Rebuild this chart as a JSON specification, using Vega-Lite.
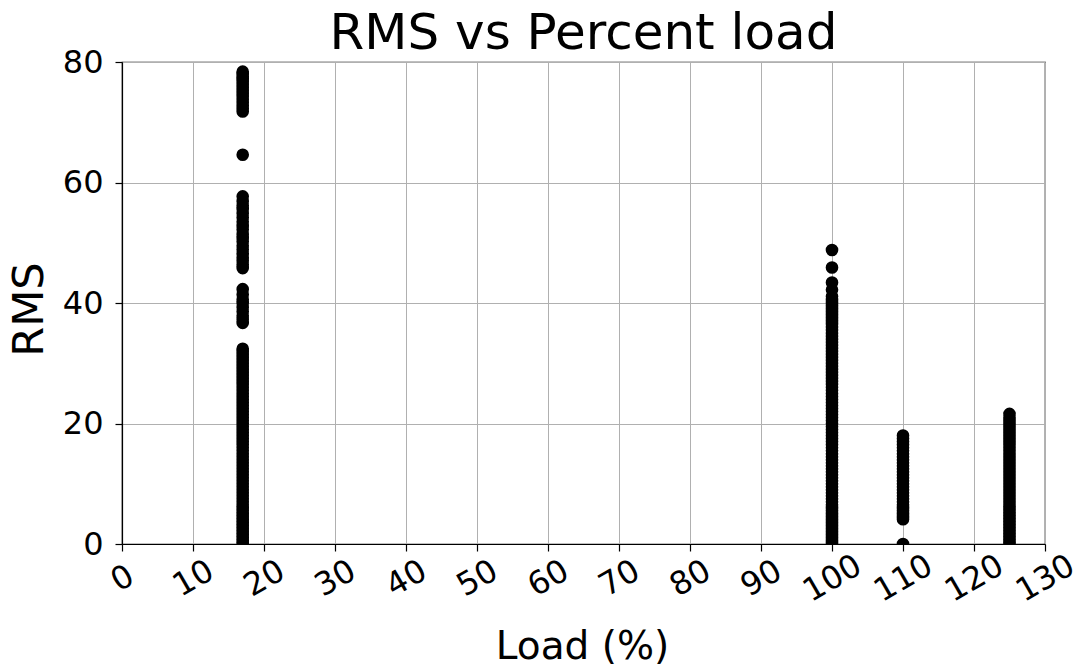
{
  "$schema": "https://vega.github.io/schema/vega-lite/v6.json",
  "autosize": {"type": "none"},
  "width": 923,
  "height": 482,
  "padding": {"left": 122, "top": 62, "right": 29, "bottom": 123},
  "background": "white",
  "title": {"text": "RMS vs Percent load", "font": "DejaVu Sans", "fontSize": 50, "fontWeight": "normal", "color": "black", "anchor": "middle", "offset": -13},
  "config": {
    "view": {"stroke": "black", "strokeWidth": 1.2},
    "axis": {"labelFont": "DejaVu Sans", "titleFont": "DejaVu Sans", "labelColor": "black", "titleColor": "black", "titleFontWeight": "normal", "domainColor": "black", "domainWidth": 1.2, "tickColor": "black", "tickWidth": 1.2, "tickSize": 7, "gridColor": "#b0b0b0", "gridWidth": 1, "labelOverlap": false, "labelFlush": false}
  },
  "data": {"values": [
    {"load":17,"rms":0},{"load":17,"rms":0.5},{"load":17,"rms":1},{"load":17,"rms":1.5},{"load":17,"rms":2},{"load":17,"rms":2.5},{"load":17,"rms":3},{"load":17,"rms":3.5},{"load":17,"rms":4},{"load":17,"rms":4.5},{"load":17,"rms":5},{"load":17,"rms":5.5},{"load":17,"rms":6},{"load":17,"rms":6.5},{"load":17,"rms":7},{"load":17,"rms":7.5},{"load":17,"rms":8},{"load":17,"rms":8.5},{"load":17,"rms":9},{"load":17,"rms":9.5},{"load":17,"rms":10},{"load":17,"rms":10.5},{"load":17,"rms":11},{"load":17,"rms":11.5},{"load":17,"rms":12},{"load":17,"rms":12.5},{"load":17,"rms":13},{"load":17,"rms":13.5},{"load":17,"rms":14},{"load":17,"rms":14.5},{"load":17,"rms":15},{"load":17,"rms":15.5},{"load":17,"rms":16},{"load":17,"rms":16.5},{"load":17,"rms":17},{"load":17,"rms":17.5},{"load":17,"rms":18},{"load":17,"rms":18.5},{"load":17,"rms":19},{"load":17,"rms":19.5},{"load":17,"rms":20},{"load":17,"rms":20.5},{"load":17,"rms":21},{"load":17,"rms":21.5},{"load":17,"rms":22},{"load":17,"rms":22.5},{"load":17,"rms":23},{"load":17,"rms":23.5},{"load":17,"rms":24},{"load":17,"rms":24.5},{"load":17,"rms":25},{"load":17,"rms":25.5},{"load":17,"rms":26},{"load":17,"rms":26.5},{"load":17,"rms":27},{"load":17,"rms":27.5},{"load":17,"rms":28},{"load":17,"rms":28.5},{"load":17,"rms":29},{"load":17,"rms":29.5},{"load":17,"rms":30},{"load":17,"rms":30.5},{"load":17,"rms":31},{"load":17,"rms":31.5},{"load":17,"rms":32},{"load":17,"rms":32.4},
    {"load":17,"rms":36.7},{"load":17,"rms":37.3},{"load":17,"rms":37.9},{"load":17,"rms":38.6},{"load":17,"rms":39.3},{"load":17,"rms":40},{"load":17,"rms":40.6},{"load":17,"rms":41.4},{"load":17,"rms":42.3},
    {"load":17,"rms":45.8},{"load":17,"rms":46.4},{"load":17,"rms":47},{"load":17,"rms":47.5},{"load":17,"rms":48.2},{"load":17,"rms":48.9},{"load":17,"rms":49.5},{"load":17,"rms":50.2},{"load":17,"rms":50.8},{"load":17,"rms":51.4},{"load":17,"rms":52.2},{"load":17,"rms":52.8},{"load":17,"rms":53.5},{"load":17,"rms":54.2},{"load":17,"rms":54.9},{"load":17,"rms":55.6},{"load":17,"rms":56.2},{"load":17,"rms":56.9},{"load":17,"rms":57.7},
    {"load":17,"rms":64.6},
    {"load":17,"rms":71.8},{"load":17,"rms":72.3},{"load":17,"rms":72.8},{"load":17,"rms":73.3},{"load":17,"rms":73.8},{"load":17,"rms":74.3},{"load":17,"rms":74.8},{"load":17,"rms":75.3},{"load":17,"rms":75.8},{"load":17,"rms":76.3},{"load":17,"rms":76.8},{"load":17,"rms":77.2},{"load":17,"rms":77.6},{"load":17,"rms":78},{"load":17,"rms":78.4},
    {"load":100,"rms":0},{"load":100,"rms":0.5},{"load":100,"rms":1},{"load":100,"rms":1.5},{"load":100,"rms":2},{"load":100,"rms":2.5},{"load":100,"rms":3},{"load":100,"rms":3.5},{"load":100,"rms":4},{"load":100,"rms":4.5},{"load":100,"rms":5},{"load":100,"rms":5.5},{"load":100,"rms":6},{"load":100,"rms":6.5},{"load":100,"rms":7},{"load":100,"rms":7.5},{"load":100,"rms":8},{"load":100,"rms":8.5},{"load":100,"rms":9},{"load":100,"rms":9.5},{"load":100,"rms":10},{"load":100,"rms":10.5},{"load":100,"rms":11},{"load":100,"rms":11.5},{"load":100,"rms":12},{"load":100,"rms":12.5},{"load":100,"rms":13},{"load":100,"rms":13.5},{"load":100,"rms":14},{"load":100,"rms":14.5},{"load":100,"rms":15},{"load":100,"rms":15.5},{"load":100,"rms":16},{"load":100,"rms":16.5},{"load":100,"rms":17},{"load":100,"rms":17.5},{"load":100,"rms":18},{"load":100,"rms":18.5},{"load":100,"rms":19},{"load":100,"rms":19.5},{"load":100,"rms":20},{"load":100,"rms":20.5},{"load":100,"rms":21},{"load":100,"rms":21.5},{"load":100,"rms":22},{"load":100,"rms":22.5},{"load":100,"rms":23},{"load":100,"rms":23.5},{"load":100,"rms":24},{"load":100,"rms":24.5},{"load":100,"rms":25},{"load":100,"rms":25.5},{"load":100,"rms":26},{"load":100,"rms":26.5},{"load":100,"rms":27},{"load":100,"rms":27.5},{"load":100,"rms":28},{"load":100,"rms":28.5},{"load":100,"rms":29},{"load":100,"rms":29.5},{"load":100,"rms":30},{"load":100,"rms":30.5},{"load":100,"rms":31},{"load":100,"rms":31.5},{"load":100,"rms":32},{"load":100,"rms":32.5},{"load":100,"rms":33},{"load":100,"rms":33.5},{"load":100,"rms":34},{"load":100,"rms":34.5},{"load":100,"rms":35},{"load":100,"rms":35.5},{"load":100,"rms":36},{"load":100,"rms":36.5},{"load":100,"rms":37},{"load":100,"rms":37.5},{"load":100,"rms":38},{"load":100,"rms":38.5},{"load":100,"rms":39},{"load":100,"rms":39.5},{"load":100,"rms":40},{"load":100,"rms":40.5},{"load":100,"rms":41.1},{"load":100,"rms":42.2},{"load":100,"rms":43.4},{"load":100,"rms":45.9},{"load":100,"rms":48.8},
    {"load":110,"rms":0},{"load":110,"rms":4.1},{"load":110,"rms":4.5},{"load":110,"rms":5},{"load":110,"rms":5.5},{"load":110,"rms":6},{"load":110,"rms":6.5},{"load":110,"rms":7},{"load":110,"rms":7.5},{"load":110,"rms":8},{"load":110,"rms":8.5},{"load":110,"rms":9},{"load":110,"rms":9.5},{"load":110,"rms":10},{"load":110,"rms":10.5},{"load":110,"rms":11},{"load":110,"rms":11.5},{"load":110,"rms":12},{"load":110,"rms":12.5},{"load":110,"rms":13},{"load":110,"rms":13.5},{"load":110,"rms":14},{"load":110,"rms":14.5},{"load":110,"rms":15},{"load":110,"rms":15.5},{"load":110,"rms":16},{"load":110,"rms":16.5},{"load":110,"rms":17},{"load":110,"rms":17.5},{"load":110,"rms":18},
    {"load":125,"rms":0},{"load":125,"rms":0.5},{"load":125,"rms":1},{"load":125,"rms":1.5},{"load":125,"rms":2},{"load":125,"rms":2.5},{"load":125,"rms":3},{"load":125,"rms":3.5},{"load":125,"rms":4},{"load":125,"rms":4.5},{"load":125,"rms":5},{"load":125,"rms":5.5},{"load":125,"rms":6},{"load":125,"rms":6.5},{"load":125,"rms":7},{"load":125,"rms":7.5},{"load":125,"rms":8},{"load":125,"rms":8.5},{"load":125,"rms":9},{"load":125,"rms":9.5},{"load":125,"rms":10},{"load":125,"rms":10.5},{"load":125,"rms":11},{"load":125,"rms":11.5},{"load":125,"rms":12},{"load":125,"rms":12.5},{"load":125,"rms":13},{"load":125,"rms":13.5},{"load":125,"rms":14},{"load":125,"rms":14.5},{"load":125,"rms":15},{"load":125,"rms":15.5},{"load":125,"rms":16},{"load":125,"rms":16.5},{"load":125,"rms":17},{"load":125,"rms":17.5},{"load":125,"rms":18},{"load":125,"rms":18.5},{"load":125,"rms":19},{"load":125,"rms":19.5},{"load":125,"rms":20},{"load":125,"rms":20.5},{"load":125,"rms":21},{"load":125,"rms":21.6}
  ]},
  "mark": {"type": "point", "filled": true, "color": "black", "opacity": 1, "size": 160, "clip": true},
  "encoding": {
    "x": {"field": "load", "type": "quantitative", "scale": {"domain": [0, 130], "nice": false, "zero": false},
      "axis": {"title": "Load (%)", "values": [0,10,20,30,40,50,60,70,80,90,100,110,120,130], "labelFontSize": 32, "labelAngle": -30, "labelAlign": "center", "labelBaseline": "middle", "labelPadding": 27, "titleFontSize": 39, "titleX": 460, "titleY": 114, "titleBaseline": "alphabetic", "titleAnchor": "middle", "titleAlign": "center", "grid": true}},
    "y": {"field": "rms", "type": "quantitative", "scale": {"domain": [0, 80], "nice": false},
      "axis": {"title": "RMS", "values": [0,20,40,60,80], "labelFontSize": 32, "labelPadding": 12, "titleFontSize": 43, "titleX": -93, "titleY": 247, "titleAngle": -90, "titleBaseline": "middle", "titleAlign": "center", "grid": true}}
  }
}
